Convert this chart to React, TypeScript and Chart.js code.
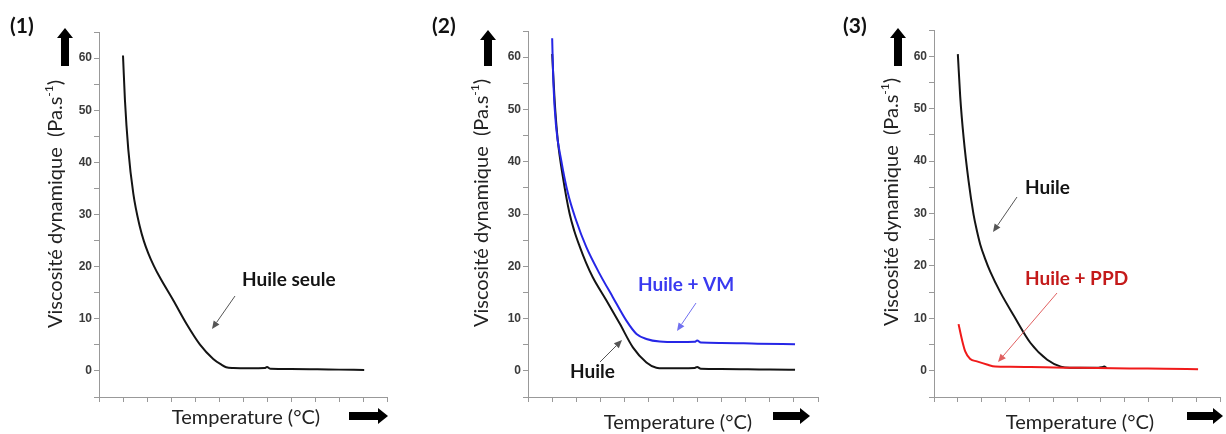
import React, { useEffect, useRef } from 'react';
import { Chart, registerables } from 'chart.js';
Chart.register(...registerables);

// ---- axis settings (arbitrary temperature units, viscosity in Pa.s-1)
const Y_MIN = -5;
const Y_MAX = 65;
const Y_STEP = 5;
const yLabelValues = [0, 10, 20, 30, 40, 50, 60];
const X_MIN = -1;
const X_MAX = 11;
const X_STEP = 1;

// ---- Panel (1): Huile seule
const p1HuileX = [0, 0.08, 0.22, 0.43, 0.7, 0.87, 1.05, 1.28, 1.54, 2.1, 2.65, 3.2, 3.76, 4.1, 4.3, 4.6, 5.3, 5.9, 6.0, 6.15, 7, 8.1, 9, 10.05];
const p1HuileY = [60.5, 52, 42.5, 34, 27.7, 24.9, 22.6, 20.2, 17.9, 13.5, 9, 5.1, 2.3, 1.2, 0.7, 0.55, 0.5, 0.55, 0.75, 0.4, 0.35, 0.3, 0.25, 0.2];

// ---- Panel (2): Huile / Huile + VM
const p2HuileX = [0, 0.1, 0.23, 0.44, 0.72, 0.92, 1.13, 1.4, 1.68, 2.24, 2.8, 3.34, 3.9, 4.31, 4.6, 5.3, 5.9, 6.0, 6.15, 7, 8.1, 9, 10.05];
const p2HuileY = [60.6, 51.9, 44.2, 37.2, 30.1, 26.7, 23.9, 20.7, 17.9, 13.5, 9.0, 4.5, 1.6, 0.6, 0.5, 0.5, 0.55, 0.75, 0.4, 0.35, 0.3, 0.25, 0.2];
const p2VmX = [0, 0.05, 0.16, 0.37, 0.65, 0.99, 1.41, 1.96, 2.51, 3.07, 3.49, 3.9, 4.45, 5.2, 5.9, 6.0, 6.15, 7, 8.5, 10.05];
const p2VmY = [63.6, 55.1, 46.8, 40.4, 34, 28.8, 23.7, 18.6, 14.1, 9.6, 7.05, 6.1, 5.6, 5.5, 5.55, 5.8, 5.4, 5.35, 5.2, 5.1];

// ---- Panel (3): Huile / Huile + PPD
const p3HuileX = [0, 0.1, 0.24, 0.45, 0.66, 0.8, 0.94, 1.15, 1.36, 1.78, 2.35, 3.05, 3.75, 4.32, 4.7, 5.3, 5.9, 6.05, 6.14, 6.25];
const p3HuileY = [60.4, 52.3, 44.6, 36.2, 29.8, 26.7, 24.1, 21.3, 18.9, 15, 10.5, 5.3, 2.1, 0.8, 0.6, 0.6, 0.6, 0.7, 0.8, 0.5];
const p3PpdX = [0.03, 0.17, 0.31, 0.52, 0.8, 1.22, 1.57, 2.2, 3.05, 4.5, 5.86, 7.2, 8.67, 10.08];
const p3PpdY = [8.9, 6.0, 3.7, 2.25, 1.8, 1.2, 0.8, 0.75, 0.7, 0.6, 0.55, 0.45, 0.4, 0.3];

// ---- texts
const panelLabels = ['(1)', '(2)', '(3)'];
const yTitleMain = 'Viscosité dynamique  (Pa.s';
const yTitleSup = '-1';
const yTitleEnd = ')';
const xTitle = 'Temperature (°C)';

const BLACK = '#141414';
const BLUE = '#2626e6';
const RED = '#f01a1a';

const toPoints = (xs: number[], ys: number[]) => xs.map((x, i) => ({ x, y: ys[i] }));

type Note = { text: string; x: number; y: number; color: string; ax1: number; ay1: number; ax2: number; ay2: number; acolor: string };
type Panel = {
  left: number; width: number;
  area: { left: number; right: number; top: number; bottom: number };
  label: { x: number; y: number };
  up: { cx: number; top: number; bottom: number };
  right: { left: number; right: number; cy: number };
  yTitle: { cx: number; cy: number };
  xTitle: { cx: number; cy: number };
  notes: Note[];
  datasets: any[];
};

const lineDs = (label: string, xs: number[], ys: number[], color: string, order: number) => ({
  label,
  data: toPoints(xs, ys),
  borderColor: color,
  backgroundColor: color,
  borderWidth: 2,
  pointRadius: 0,
  cubicInterpolationMode: 'monotone',
  fill: false,
  order,
});

const panels: Panel[] = [
  {
    left: 0, width: 410,
    area: { left: 99, right: 387, top: 32, bottom: 397 },
    label: { x: 10, y: 26 },
    up: { cx: 65, top: 28, bottom: 66 },
    right: { left: 349, right: 388, cy: 416 },
    yTitle: { cx: 56, cy: 204 },
    xTitle: { cx: 246, cy: 418 },
    notes: [
      { text: 'Huile seule', x: 242, y: 280, color: BLACK, ax1: 235, ay1: 296, ax2: 212, ay2: 329, acolor: '#555' },
    ],
    datasets: [lineDs('Huile seule', p1HuileX, p1HuileY, BLACK, 0)],
  },
  {
    left: 410, width: 420,
    area: { left: 118, right: 408, top: 31, bottom: 397 },
    label: { x: 22, y: 26 },
    up: { cx: 78, top: 30, bottom: 66 },
    right: { left: 363, right: 400, cy: 416 },
    yTitle: { cx: 72, cy: 203 },
    xTitle: { cx: 268, cy: 423 },
    notes: [
      { text: 'Huile + VM', x: 228, y: 285, color: '#3a3af0', ax1: 286, ay1: 303, ax2: 267, ay2: 331, acolor: '#7070f0' },
      { text: 'Huile', x: 160, y: 372, color: BLACK, ax1: 190, ay1: 362, ax2: 212, ay2: 340, acolor: '#555' },
    ],
    datasets: [
      lineDs('Huile + VM', p2VmX, p2VmY, BLUE, 0),
      lineDs('Huile', p2HuileX, p2HuileY, BLACK, 1),
    ],
  },
  {
    left: 830, width: 396,
    area: { left: 104, right: 390, top: 30, bottom: 397 },
    label: { x: 13, y: 26 },
    up: { cx: 68, top: 28, bottom: 66 },
    right: { left: 357, right: 393, cy: 416 },
    yTitle: { cx: 62, cy: 202 },
    xTitle: { cx: 250, cy: 423 },
    notes: [
      { text: 'Huile', x: 195, y: 188, color: BLACK, ax1: 187, ay1: 197, ax2: 163, ay2: 232, acolor: '#555' },
      { text: 'Huile + PPD', x: 195, y: 279, color: '#c41a1a', ax1: 227, ay1: 293, ax2: 168, ay2: 362, acolor: '#e06060' },
    ],
    datasets: [
      lineDs('Huile + PPD', p3PpdX, p3PpdY, RED, 0),
      lineDs('Huile', p3HuileX, p3HuileY, BLACK, 1),
    ],
  },
];

function drawNoteArrow(ctx: CanvasRenderingContext2D, x1: number, y1: number, x2: number, y2: number, color: string) {
  const ang = Math.atan2(y2 - y1, x2 - x1);
  const hl = 8, hw = 3.5;
  const bx = x2 - hl * Math.cos(ang), by = y2 - hl * Math.sin(ang);
  ctx.strokeStyle = color;
  ctx.fillStyle = color;
  ctx.lineWidth = 1;
  ctx.beginPath();
  ctx.moveTo(x1, y1);
  ctx.lineTo(bx, by);
  ctx.stroke();
  ctx.beginPath();
  ctx.moveTo(x2, y2);
  ctx.lineTo(bx + hw * Math.sin(ang), by - hw * Math.cos(ang));
  ctx.lineTo(bx - hw * Math.sin(ang), by + hw * Math.cos(ang));
  ctx.closePath();
  ctx.fill();
}

function makeDeco(p: Panel) {
  return {
    id: 'deco',
    afterDraw(chart: any) {
      const ctx: CanvasRenderingContext2D = chart.ctx;
      ctx.save();
      // panel label
      ctx.fillStyle = '#111';
      ctx.font = 'bold 21px Lato';
      ctx.textBaseline = 'middle';
      ctx.textAlign = 'left';
      ctx.fillText(panelLabels[panels.indexOf(p)], p.label.x, p.label.y);
      // big up arrow
      const u = p.up;
      ctx.fillStyle = '#000';
      ctx.beginPath();
      ctx.moveTo(u.cx, u.top);
      ctx.lineTo(u.cx + 8, u.top + 10);
      ctx.lineTo(u.cx + 4, u.top + 10);
      ctx.lineTo(u.cx + 4, u.bottom);
      ctx.lineTo(u.cx - 4, u.bottom);
      ctx.lineTo(u.cx - 4, u.top + 10);
      ctx.lineTo(u.cx - 8, u.top + 10);
      ctx.closePath();
      ctx.fill();
      // big right arrow
      const r = p.right;
      ctx.beginPath();
      ctx.moveTo(r.right, r.cy);
      ctx.lineTo(r.right - 10, r.cy - 8);
      ctx.lineTo(r.right - 10, r.cy - 4);
      ctx.lineTo(r.left, r.cy - 4);
      ctx.lineTo(r.left, r.cy + 4);
      ctx.lineTo(r.right - 10, r.cy + 4);
      ctx.lineTo(r.right - 10, r.cy + 8);
      ctx.closePath();
      ctx.fill();
      // y title
      ctx.save();
      ctx.translate(p.yTitle.cx, p.yTitle.cy);
      ctx.rotate(-Math.PI / 2);
      ctx.fillStyle = '#222';
      ctx.font = '20px Lato';
      const w1 = ctx.measureText(yTitleMain).width;
      const w3 = ctx.measureText(yTitleEnd).width;
      ctx.font = '12px Lato';
      const w2 = ctx.measureText(yTitleSup).width;
      const sx = -(w1 + w2 + w3) / 2;
      ctx.textAlign = 'left';
      ctx.font = '20px Lato';
      ctx.fillText(yTitleMain, sx, 0);
      ctx.fillText(yTitleEnd, sx + w1 + w2, 0);
      ctx.font = '12px Lato';
      ctx.fillText(yTitleSup, sx + w1, -7);
      ctx.restore();
      // x title
      ctx.fillStyle = '#222';
      ctx.font = '20px Lato';
      ctx.textAlign = 'center';
      ctx.fillText(xTitle, p.xTitle.cx, p.xTitle.cy);
      // annotations
      for (const n of p.notes) {
        ctx.font = 'bold 19px Lato';
        ctx.textAlign = 'left';
        ctx.fillStyle = n.color;
        ctx.fillText(n.text, n.x, n.y);
        drawNoteArrow(ctx, n.ax1, n.ay1, n.ax2, n.ay2, n.acolor);
      }
      ctx.restore();
    },
  };
}

function PanelChart({ p }: { p: Panel }) {
  const ref = useRef<HTMLCanvasElement | null>(null);
  useEffect(() => {
    if (!ref.current) return;
    const a = p.area;
    const chart = new Chart(ref.current, {
      type: 'line',
      data: { datasets: p.datasets },
      options: {
        animation: false,
        responsive: false,
        devicePixelRatio: window.devicePixelRatio || 1,
        layout: { padding: { top: a.top, right: p.width - a.right, left: 0, bottom: 0 } },
        plugins: { legend: { display: false }, tooltip: { enabled: false } },
        scales: {
          x: {
            type: 'linear',
            min: X_MIN,
            max: X_MAX,
            border: { display: true, color: '#999', width: 1 },
            grid: { drawOnChartArea: false, drawTicks: true, tickLength: 5, color: '#999' },
            ticks: { stepSize: X_STEP, autoSkip: false, callback: () => '' },
            afterFit: (s: any) => { s.height = 434 - a.bottom; },
          },
          y: {
            type: 'linear',
            min: Y_MIN,
            max: Y_MAX,
            border: { display: true, color: '#999', width: 1 },
            grid: { drawOnChartArea: false, drawTicks: true, tickLength: 5, color: '#999' },
            ticks: {
              stepSize: Y_STEP,
              autoSkip: false,
              padding: 2,
              color: '#3a3a3a',
              font: { family: 'Liberation Sans', weight: 'bold', size: 12 },
              callback: (v: any) => (yLabelValues.includes(Number(v)) ? String(v) : ''),
            },
            afterFit: (s: any) => { s.width = a.left; },
          },
        },
      } as any,
      plugins: [makeDeco(p)],
    });
    let alive = true;
    Promise.all([
      document.fonts.load('20px Lato'),
      document.fonts.load('bold 19px Lato'),
      document.fonts.load('bold 12px "Liberation Sans"'),
    ]).then(() => { if (alive) chart.update(); }).catch(() => {});
    return () => { alive = false; chart.destroy(); };
  }, [p]);
  return (
    <canvas
      ref={ref}
      width={p.width}
      height={434}
      style={{ position: 'absolute', left: p.left, top: 0, width: p.width, height: 434, display: 'block' }}
    />
  );
}

export default function App() {
  return (
    <div style={{ position: 'absolute', left: 0, top: 0, width: 1226, height: 434, background: '#fff', overflow: 'hidden' }}>
      {panels.map((p, i) => <PanelChart key={i} p={p} />)}
    </div>
  );
}
